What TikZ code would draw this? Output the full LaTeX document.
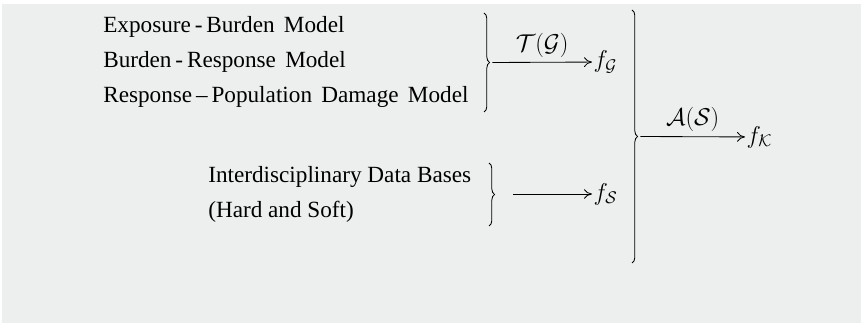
\documentclass[tikz,border=0pt]{standalone}
\usepackage{fontspec}
\setmainfont{Liberation Serif}
\usetikzlibrary{arrows.meta, decorations.pathreplacing}
\definecolor{bggray}{RGB}{237, 239, 238}

\begin{document}
\begin{tikzpicture}[x=0.025cm, y=-0.025cm,
    item/.style={anchor=base west, inner sep=0pt, font=\fontsize{16.5}{19}\selectfont},
    wideitem/.style={item, font={\fontsize{16.5}{19}\selectfont\spaceskip 0.4em\relax}},
    result/.style={anchor=west, inner sep=1pt, font=\fontsize{16.5}{19}\selectfont},
    curly/.style={decorate, decoration={brace, amplitude=4pt}, line width=0.6pt},
    conn/.style={-{To[length=2mm, width=2.4mm]}, line width=0.6pt}
]
    \useasboundingbox (0,0) rectangle (861,326);
    \fill[bggray] (2,4) rectangle (861,323);

    % Model chain
    \node[wideitem] (expo) at (103,33) {Exposure\,-\,Burden Model};
    \node[wideitem] (burd) at (103,68) {Burden\,-\,Response Model};
    \node[wideitem] (resp) at (103,103) {Response\,--\,Population Damage Model};
    \draw[curly] (484,13) -- coordinate[xshift=6pt] (tipG) (484,112);
    \node[result] (fG) at (592,62) {$f_{\mathcal{G}}$};
    \draw[conn] (tipG) -- node[above, font=\fontsize{16.5}{19}\selectfont] {$\mathcal{T}(\mathcal{G})$} (fG);

    % Data bases
    \node[item] (data) at (208,183) {Interdisciplinary Data Bases};
    \node[item] (hard) at (208,218) {(Hard and Soft)};
    \draw[curly] (489,163) -- (489,226);
    \coordinate (srcS) at (513,194);
    \node[result] (fS) at (592,194) {$f_{\mathcal{S}}$};
    \draw[conn] (srcS) -- (fS);

    % Overall
    \draw[curly] (632,10) -- coordinate[xshift=6pt] (tipK) (632,263);
    \node[result] (fK) at (745,137) {$f_{\mathcal{K}}$};
    \draw[conn] (tipK) -- node[above, font=\fontsize{16.5}{19}\selectfont] {$\mathcal{A}(\mathcal{S})$} (fK);

\end{tikzpicture}
\end{document}
